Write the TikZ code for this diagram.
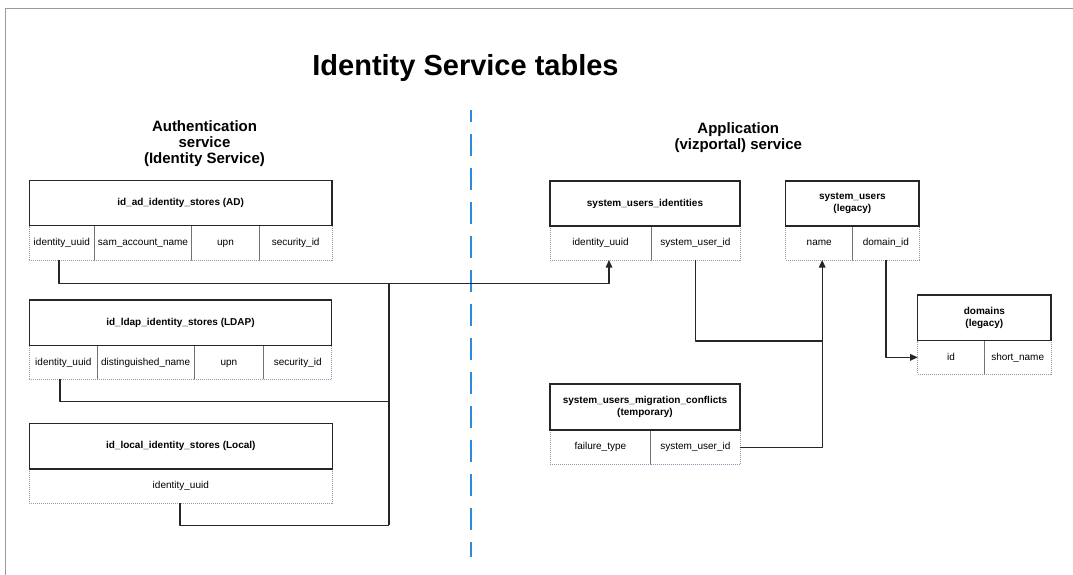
\documentclass[tikz,border=0pt]{standalone}
\usepackage{fontspec}
\setmainfont{Liberation Sans}
\usetikzlibrary{arrows.meta}
\definecolor{celledge}{RGB}{150,150,178}
\definecolor{divblue}{RGB}{42,139,224}
\newcommand\dbcell[7]{\node[#1,anchor=north west,minimum width={#4-#3},minimum height={#6-#5}] (#2) at (#3,#5) {#7};}
\tikzset{
  hdr/.style={draw=black!85,line width=1.2pt,fill=white,inner sep=0pt,outer sep=0pt,align=center,font=\bfseries\fontsize{10}{12}\selectfont},
  cell/.style={draw=celledge,line width=0.6pt,dash pattern=on 1pt off 1pt,inner sep=0pt,outer sep=0pt,text height=7.5pt,text depth=2.2pt,font=\fontsize{10}{12}\selectfont},
  coldiv/.style={draw=black!55,line width=0.9pt},
  conn/.style={draw=black!85,line width=1.3pt,line join=round},
  arr/.style={conn,-{Triangle[length=7.5pt,width=6.5pt]}},
  frameline/.style={draw=black!40,line width=1pt},
  sub/.style={align=center,font=\bfseries\fontsize{15}{15.8}\selectfont},
}
\begin{document}
\begin{tikzpicture}[x=1pt,y=-1pt]
\useasboundingbox (0,0) rectangle (1073,575);
\draw[frameline] (5.7,575) -- (5.7,8.7) -- (1073,8.7);
\node[font=\bfseries\fontsize{29}{32}\selectfont] (title) at (465.5,68) {Identity Service tables};
\node[sub] (auth) at (204.5,143.5) {Authentication\\service\\(Identity Service)};
\node[sub] (app) at (738.3,137.5) {Application\\(vizportal) service};
\draw[draw=divblue,line width=2pt,dash pattern=on 22pt off 12pt,dash phase=10pt] (471,110) -- (471,557);

% AD table
\dbcell{cell}{ad1}{29.3}{94.3}{225.7}{260.3}{identity\_uuid}
\dbcell{cell}{ad2}{94.3}{191.7}{225.7}{260.3}{sam\_account\_name}
\dbcell{cell}{ad3}{191.7}{259.3}{225.7}{260.3}{upn}
\dbcell{cell}{ad4}{259.3}{332}{225.7}{260.3}{security\_id}
\draw[coldiv] (ad1.north east) -- (ad1.south east);
\draw[coldiv] (ad2.north east) -- (ad2.south east);
\draw[coldiv] (ad3.north east) -- (ad3.south east);
\dbcell{hdr}{adh}{29.3}{332}{180.5}{225.7}{id\_ad\_identity\_stores (AD)}

% LDAP table
\dbcell{cell}{ld1}{29.3}{97.3}{345.7}{379.3}{identity\_uuid}
\dbcell{cell}{ld2}{97.3}{194}{345.7}{379.3}{distinguished\_name}
\dbcell{cell}{ld3}{194}{263.7}{345.7}{379.3}{upn}
\dbcell{cell}{ld4}{263.7}{331.7}{345.7}{379.3}{security\_id}
\draw[coldiv] (ld1.north east) -- (ld1.south east);
\draw[coldiv] (ld2.north east) -- (ld2.south east);
\draw[coldiv] (ld3.north east) -- (ld3.south east);
\dbcell{hdr}{ldh}{29.3}{331.7}{300}{345.7}{id\_ldap\_identity\_stores (LDAP)}

% Local table
\dbcell{cell}{lo1}{29.3}{332.3}{469}{503.3}{identity\_uuid}
\dbcell{hdr}{loh}{29.3}{332.3}{423.3}{469}{id\_local\_identity\_stores (Local)}

% system_users_identities
\dbcell{cell}{sui1}{550}{651}{226}{260}{identity\_uuid}
\dbcell{cell}{sui2}{651}{740}{226}{260}{system\_user\_id}
\draw[coldiv] (sui1.north east) -- (sui1.south east);
\dbcell{hdr}{suih}{550}{740}{181}{226}{system\_users\_identities}

% system_users
\dbcell{cell}{su1}{785.7}{852.7}{226}{260}{name}
\dbcell{cell}{su2}{852.7}{919}{226}{260}{domain\_id}
\draw[coldiv] (su1.north east) -- (su1.south east);
\dbcell{hdr}{suh}{785.7}{919}{181}{226}{system\_users\\(legacy)}

% domains
\dbcell{cell}{dm1}{917.7}{984.3}{340.7}{374}{id}
\dbcell{cell}{dm2}{984.3}{1051}{340.7}{374}{short\_name}
\draw[coldiv] (dm1.north east) -- (dm1.south east);
\dbcell{hdr}{dmh}{917.7}{1051}{295}{340.7}{domains\\(legacy)}

% migration conflicts
\dbcell{cell}{mc1}{550}{650.7}{430}{464.3}{failure\_type}
\dbcell{cell}{mc2}{650.7}{740}{430}{464.3}{system\_user\_id}
\draw[coldiv] (mc1.north east) -- (mc1.south east);
\dbcell{hdr}{mch}{550}{740}{384}{430}{system\_users\_migration\_conflicts\\(temporary)}

% connectors
\coordinate (busT) at (389,283.3);
\coordinate (busM) at (389,401.7);
\coordinate (busB) at (389,525.3);
\coordinate (suJ) at (822,341);
\draw[arr] ([xshift=-2.8pt]ad1.south) |- (busT) -| ([xshift=8.5pt]sui1.south);
\draw[conn] (busT) -- (busB);
\draw[conn] ([xshift=-3.3pt]ld1.south) |- (busM);
\draw[conn] ([xshift=-0.8pt]lo1.south) |- (busB);
\draw[conn] (sui2.south) |- (suJ);
\draw[arr] (mc2.east) -| ([xshift=3pt]su1.south);
\draw[arr] (su2.south) |- (dm1.west);
\end{tikzpicture}
\end{document}
